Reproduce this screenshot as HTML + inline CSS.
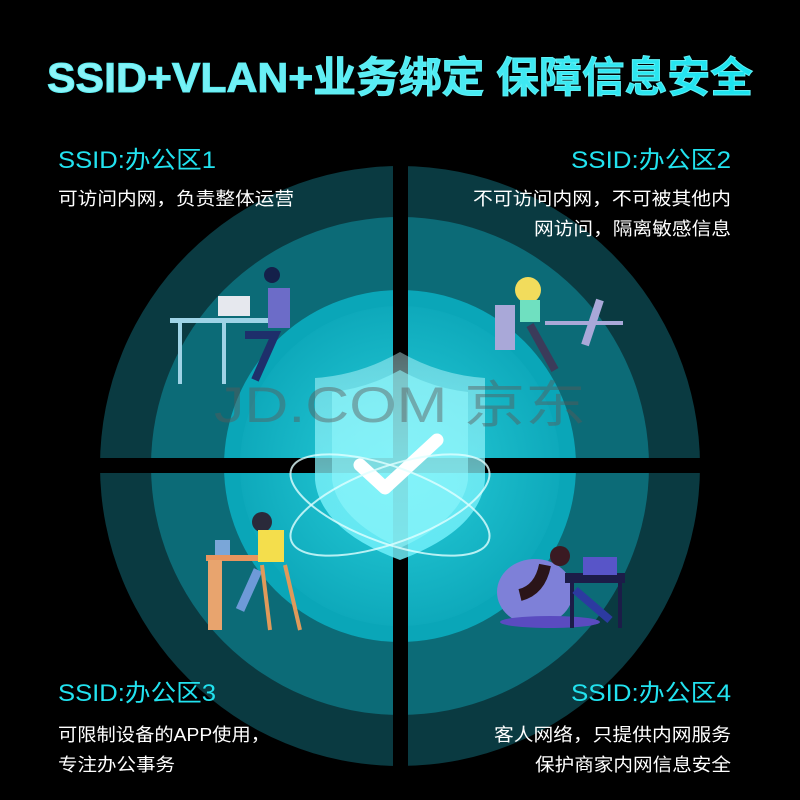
<!DOCTYPE html>
<html><head><meta charset="utf-8"><style>
html,body{margin:0;padding:0;background:#000;}
svg{display:block}
text{font-family:"Liberation Sans","Noto Sans CJK SC",sans-serif;}
</style></head><body>
<svg width="800" height="800" viewBox="0 0 800 800" xmlns="http://www.w3.org/2000/svg">
<defs>
<linearGradient id="tg" x1="0" x2="1" y1="0" y2="0">
<stop offset="0" stop-color="#8ff4f8"/><stop offset="1" stop-color="#19e3ef"/></linearGradient>
<radialGradient id="inner" cx="0.5" cy="0.5" r="0.5">
<stop offset="0" stop-color="#3cd6e2"/><stop offset="0.5" stop-color="#1bbccb"/><stop offset="1" stop-color="#0ea9bb"/></radialGradient>
<linearGradient id="sh" x1="0" x2="0" y1="0" y2="1">
<stop offset="0" stop-color="#c8fbff" stop-opacity="0.5"/><stop offset="0.6" stop-color="#7ff3fb" stop-opacity="0.9"/><stop offset="1" stop-color="#6ff0fb"/></linearGradient>
</defs>
<rect width="800" height="800" fill="#000"/>
<text x="400" y="92" text-anchor="middle" font-size="42" font-weight="bold" fill="url(#tg)" stroke="#5ff0f5" stroke-width="1" textLength="706" lengthAdjust="spacingAndGlyphs">SSID+VLAN+业务绑定 保障信息安全</text>

<circle cx="400" cy="466" r="300" fill="#0a3a41"/>
<circle cx="400" cy="466" r="249" fill="#0c6b77"/>
<circle cx="400" cy="466" r="176" fill="#0aa6b8"/>
<circle cx="400" cy="466" r="160" fill="url(#inner)"/>
<rect x="393" y="160" width="15" height="620" fill="#000"/>
<rect x="95" y="458" width="610" height="15" fill="#000"/>

<path d="M400 352 Q440 375 485 378 L485 480 Q480 530 400 560 Q320 530 315 480 L315 378 Q360 375 400 352 Z" fill="url(#sh)" opacity="0.85"/>
<path d="M400 370 Q432 388 468 392 L468 480 Q462 520 400 548 Q338 520 332 480 L332 392 Q368 388 400 370 Z" fill="#8ff6fc" opacity="0.6"/>
<path d="M360 465 L385 488 L437 440" stroke="#fff" stroke-width="13" fill="none" stroke-linecap="round" stroke-linejoin="round"/>
<ellipse cx="390" cy="505" rx="105" ry="38" transform="rotate(20 390 505)" fill="none" stroke="#e0ffff" stroke-width="2" opacity="0.8"/>
<ellipse cx="390" cy="505" rx="105" ry="38" transform="rotate(-20 390 505)" fill="none" stroke="#e0ffff" stroke-width="2" opacity="0.8"/>
<text x="400" y="422" text-anchor="middle" font-size="50" fill="#5a5a5a" opacity="0.45" textLength="372" lengthAdjust="spacingAndGlyphs">JD.COM 京东</text>

<g>
<rect x="170" y="318" width="120" height="5" fill="#9fd3e6"/>
<rect x="178" y="322" width="4" height="62" fill="#9fd3e6"/>
<rect x="222" y="322" width="4" height="62" fill="#9fd3e6"/>
<rect x="218" y="296" width="32" height="20" fill="#e6e8ee"/>
<rect x="268" y="288" width="22" height="40" fill="#6c6cc8"/>
<circle cx="272" cy="275" r="8" fill="#14204a"/>
<path d="M245 335 L275 335 L255 380" stroke="#1e2f6b" stroke-width="8" fill="none"/>
</g>
<g>
<rect x="495" y="305" width="20" height="45" fill="#a9a8d8"/>
<circle cx="528" cy="290" r="13" fill="#f2dc5c"/>
<rect x="520" y="300" width="20" height="22" fill="#6fe0c0"/>
<rect x="545" y="321" width="78" height="4" fill="#a9a8d8"/>
<path d="M600 300 L585 345" stroke="#a9a8d8" stroke-width="8"/>
<path d="M530 325 L555 370" stroke="#3b3b5a" stroke-width="8"/>
</g>
<g>
<rect x="206" y="555" width="55" height="6" fill="#e8955e"/>
<rect x="208" y="560" width="14" height="70" fill="#e8a46e"/>
<rect x="215" y="540" width="15" height="15" fill="#7aa6d8"/>
<circle cx="262" cy="522" r="10" fill="#2a2a3a"/>
<rect x="258" y="530" width="26" height="32" fill="#f4de4c"/>
<path d="M258 570 L240 610" stroke="#6e9ad8" stroke-width="9"/>
<path d="M262 565 L270 630 M285 565 L300 630" stroke="#e09a5a" stroke-width="4"/>
</g>
<g>
<ellipse cx="535" cy="592" rx="38" ry="33" fill="#7e80d8"/>
<ellipse cx="550" cy="622" rx="50" ry="6" fill="#5a4bc0"/>
<circle cx="560" cy="556" r="10" fill="#3a1a22"/>
<path d="M545 565 Q540 590 520 595" stroke="#2a1418" stroke-width="12" fill="none"/>
<rect x="565" y="573" width="60" height="10" fill="#1c1c48"/>
<rect x="583" y="557" width="34" height="18" fill="#5855c8"/>
<rect x="570" y="583" width="4" height="45" fill="#1c1c48"/>
<rect x="618" y="583" width="4" height="45" fill="#1c1c48"/>
<path d="M575 590 L610 620" stroke="#2c3aa0" stroke-width="8"/>
</g>

<g fill="#22e2ef" font-size="24">
<text x="58" y="168" textLength="158" lengthAdjust="spacingAndGlyphs">SSID:办公区1</text>
<text x="731" y="168" text-anchor="end" textLength="160" lengthAdjust="spacingAndGlyphs">SSID:办公区2</text>
<text x="58" y="701" textLength="158" lengthAdjust="spacingAndGlyphs">SSID:办公区3</text>
<text x="731" y="701" text-anchor="end" textLength="160" lengthAdjust="spacingAndGlyphs">SSID:办公区4</text>
</g>
<g fill="#fff" font-size="18">
<text x="58" y="205" textLength="236" lengthAdjust="spacingAndGlyphs">可访问内网，负责整体运营</text>
<text x="731" y="205" text-anchor="end" textLength="258" lengthAdjust="spacingAndGlyphs">不可访问内网，不可被其他内</text>
<text x="731" y="235" text-anchor="end" textLength="197" lengthAdjust="spacingAndGlyphs">网访问，隔离敏感信息</text>
<text x="58" y="741" textLength="212" lengthAdjust="spacingAndGlyphs">可限制设备的APP使用，</text>
<text x="58" y="771" textLength="117" lengthAdjust="spacingAndGlyphs">专注办公事务</text>
<text x="731" y="741" text-anchor="end" textLength="237" lengthAdjust="spacingAndGlyphs">客人网络，只提供内网服务</text>
<text x="731" y="771" text-anchor="end" textLength="196" lengthAdjust="spacingAndGlyphs">保护商家内网信息安全</text>
</g>
</svg>
</body></html>
